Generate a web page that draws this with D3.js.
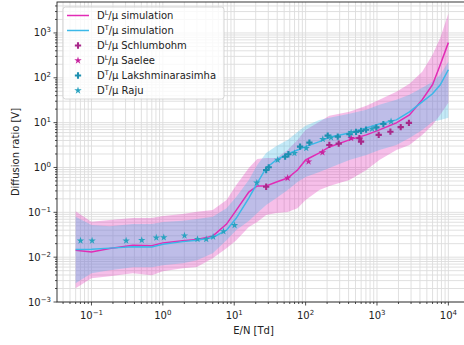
<!DOCTYPE html>
<html><head><meta charset="utf-8">
<script src="https://cdn.jsdelivr.net/npm/d3@7/dist/d3.min.js"></script>
<style>html,body{margin:0;padding:0;background:#fff;}svg{display:block;font-family:"DejaVu Sans",sans-serif;}</style>
</head><body><svg id="c" width="464" height="345"></svg>
<script>
// simulation E/N grid [Td]
const simEN = [0.06,0.1,0.18,0.38,0.7,1,1.9,3,5,7.8,10.7,16,21,28,39,56,77,100,156,215,410,710,1080,1870,2850,4300,6000,7700,10000];
const simL   = [0.0143,0.0131,0.0156,0.0185,0.0179,0.0208,0.0231,0.0248,0.0294,0.0546,0.112,0.283,0.386,0.386,0.474,0.582,0.879,1.47,2.11,2.87,4.12,5.33,6.89,9.89,14.9,32.3,69.9,196,608];
const simLhi = [0.106,0.0614,0.067,0.0743,0.0743,0.0824,0.0912,0.103,0.112,0.188,0.406,0.975,1.55,1.63,1.63,2.46,4.12,6.89,10.4,14.2,17.4,23.7,32.3,48.7,73.6,136,327,785,2700];
const simLlo = [0.00202,0.00339,0.00375,0.00438,0.00395,0.00485,0.00566,0.00605,0.00948,0.0159,0.0239,0.0468,0.0605,0.0867,0.0961,0.101,0.124,0.188,0.314,0.386,0.525,0.879,1.47,2.46,3.18,5.33,8.91,14.9,27.7];
const simT   = [0.0148,0.0151,0.0159,0.0171,0.0169,0.0195,0.0222,0.0239,0.0275,0.0401,0.0743,0.208,0.45,0.975,1.47,2.0,2.46,2.92,3.77,4.73,5.9,7.64,9.39,11.5,17.4,29.1,44.0,69.9,151];
const simThi = [0.0794,0.0518,0.0492,0.0546,0.0546,0.0605,0.0647,0.0706,0.0794,0.124,0.222,0.526,1.14,2.11,3.03,4.12,6.22,8.47,11.5,12.8,15.7,19.3,25.0,32.3,41.8,59.9,81.5,117,228];
const simTlo = [0.00262,0.00438,0.00511,0.00597,0.00597,0.00661,0.00733,0.00855,0.0123,0.0239,0.0401,0.0637,0.0961,0.145,0.208,0.314,0.474,0.613,0.793,0.975,1.47,1.9,2.46,3.18,4.57,6.89,10.4,11.5,12.8];

// experimental data
const schlumbohmEN = [28,215,291,567,598,1057,1541,2149,2800];
const schlumbohmV  = [0.372,3.18,3.40,4.50,3.77,5.33,6.28,7.92,9.88];
const saeleeEN = [56,110,172,434];
const saeleeV  = [0.582,1.35,2.16,4.50];
const lakshEN = [28,30.4,51.6,57.4,83.7,113,204,282,411,509,598,703,980,1229];
const lakshV  = [0.879,1.01,1.74,1.97,2.92,3.58,5.14,4.88,5.52,6.22,6.55,6.96,7.84,9.29];
const rajuEN = [0.0702,0.102,0.306,0.506,0.809,1.03,2.01,3.06,4.05,5.06,7.06,10.1,20.7,40.6,69.7,102,174,227,434,853,1574];
const rajuV  = [0.0233,0.0233,0.0233,0.0239,0.0272,0.0275,0.0302,0.0252,0.0252,0.0284,0.0375,0.0513,0.455,1.47,2.08,2.69,4.27,4.64,6.0,7.26,10.6];

const xDecades = [-1,0,1,2,3,4];
const yDecades = [-3,-2,-1,0,1,2,3];
const legendLabels = [["D","L","/μ simulation"],["D","T","/μ simulation"],["D","L","/μ Schlumbohm"],["D","L","/μ Saelee"],["D","T","/μ Lakshminarasimha"],["D","T","/μ Raju"]];
const supMinus = ["−"];

const cL = "#e22bb5", cT = "#3bb8e8";
const cSch = "#a8288a", cSae = "#c8249f", cLak = "#1e8fb0", cRaju = "#2aa3c0";

const svg = d3.select("#c");
const L = 57, R = 467, T = 2, B = 302;
const x = d3.scaleLog().domain([Math.pow(10,-1.483), Math.pow(10,4.261)]).range([L,R]);
const y = d3.scaleLog().domain([1e-3, Math.pow(10,3.69)]).range([B,T]);

// grid
const g = svg.append("g");
function minors(lo, hi){ const out=[]; for(let e=Math.floor(lo); e<=Math.ceil(hi); e++){ for(let k=1;k<=9;k++){ const v=k*Math.pow(10,e); const lv=Math.log10(v); if(lv>=lo-1e-9 && lv<=hi+1e-9) out.push(v);} } return out; }
const xTicksAll = minors(-1.483, 4.261);
const yTicksAll = minors(-3, 3.69);
g.selectAll(".gx").data(xTicksAll).enter().append("line")
 .attr("x1",d=>x(d)).attr("x2",d=>x(d)).attr("y1",T).attr("y2",B)
 .attr("stroke","#dcdcdc").attr("stroke-width",0.9);
g.selectAll(".gy").data(yTicksAll).enter().append("line")
 .attr("y1",d=>y(d)).attr("y2",d=>y(d)).attr("x1",L).attr("x2",R)
 .attr("stroke","#dcdcdc").attr("stroke-width",0.9);

// bands
const idx = d3.range(simEN.length);
const area = (lo,hi) => d3.area().x(i=>x(simEN[i])).y0(i=>y(lo[i])).y1(i=>y(hi[i]));
svg.append("path").attr("d", area(simLlo,simLhi)(idx)).attr("fill",cL).attr("fill-opacity",0.3);
svg.append("path").attr("d", area(simTlo,simThi)(idx)).attr("fill",cT).attr("fill-opacity",0.3);

const line = arr => d3.line().x(i=>x(simEN[i])).y(i=>y(arr[i]));
svg.append("path").attr("d", line(simL)(idx)).attr("fill","none").attr("stroke",cL).attr("stroke-width",1.5);
svg.append("path").attr("d", line(simT)(idx)).attr("fill","none").attr("stroke",cT).attr("stroke-width",1.5);

// markers
const cross = d3.symbol().type(d3.symbolCross).size(22);
const star = d3.symbol().type(d3.symbolStar).size(17);
function scatter(xs, ys, sym, col){
  svg.append("g").selectAll("path").data(xs.map((v,i)=>[v,ys[i]])).enter().append("path")
   .attr("d", sym).attr("transform", d=>`translate(${x(d[0])},${y(d[1])})`).attr("fill",col);
}
scatter(schlumbohmEN, schlumbohmV, cross, cSch);
scatter(saeleeEN, saeleeV, star, cSae);
scatter(lakshEN, lakshV, cross, cLak);
scatter(rajuEN, rajuV, star, cRaju);

// frame
svg.append("rect").attr("x",L).attr("y",T).attr("width",R-L).attr("height",B-T).attr("fill","none").attr("stroke","#222").attr("stroke-width",0.9);

// ticks
const ax = svg.append("g").attr("fill","#222").attr("font-size",10);
xTicksAll.forEach(v=>{ const maj = Math.abs(Math.log10(v)-Math.round(Math.log10(v)))<1e-9;
  ax.append("line").attr("x1",x(v)).attr("x2",x(v)).attr("y1",B).attr("y2",B+(maj?3.5:2)).attr("stroke","#222").attr("stroke-width",0.8);});
yTicksAll.forEach(v=>{ const maj = Math.abs(Math.log10(v)-Math.round(Math.log10(v)))<1e-9;
  ax.append("line").attr("y1",y(v)).attr("y2",y(v)).attr("x1",L).attr("x2",L-(maj?3.5:2)).attr("stroke","#222").attr("stroke-width",0.8);});
function expText(e){ return e<0 ? supMinus[0]+Math.abs(e) : String(e); }
xDecades.forEach(e=>{
  const t = ax.append("text").attr("x",x(Math.pow(10,e))).attr("y",B+17).attr("text-anchor","middle");
  t.append("tspan").text("10");
  t.append("tspan").attr("dy",-4).attr("font-size",7).text(expText(e));
});
yDecades.forEach(e=>{
  const t = ax.append("text").attr("x",L-6).attr("y",y(Math.pow(10,e))+3.5).attr("text-anchor","end");
  t.append("tspan").text("10");
  t.append("tspan").attr("dy",-4).attr("font-size",7).text(expText(e));
});
ax.append("text").attr("x",(57+450)/2).attr("y",334).attr("text-anchor","middle").text("E/N [Td]");
ax.append("text").attr("transform",`translate(19,${(T+B)/2}) rotate(-90)`).attr("text-anchor","middle").text("Diffusion ratio [V]");

// legend
const lg = svg.append("g");
lg.append("rect").attr("x",63).attr("y",7).attr("width",161).attr("height",92).attr("rx",2.5)
  .attr("fill","#fff").attr("fill-opacity",0.8).attr("stroke","#cccccc").attr("stroke-width",0.8);
const handles = [
  {t:"line",c:cL},{t:"line",c:cT},{t:"sym",s:cross,c:cSch},{t:"sym",s:star,c:cSae},{t:"sym",s:cross,c:cLak},{t:"sym",s:star,c:cRaju}];
legendLabels.forEach((lab,i)=>{
  const cy = 15.5 + i*15;
  const h = handles[i];
  if(h.t==="line") lg.append("line").attr("x1",67).attr("x2",89).attr("y1",cy).attr("y2",cy).attr("stroke",h.c).attr("stroke-width",1.5);
  else lg.append("path").attr("d",h.s).attr("transform",`translate(78,${cy})`).attr("fill",h.c);
  const t = lg.append("text").attr("x",97).attr("y",cy+3.5).attr("font-size",10).attr("fill","#222");
  t.append("tspan").text(lab[0]);
  t.append("tspan").attr("dy",-4).attr("font-size",6.5).text(lab[1]);
  t.append("tspan").attr("dy",4).text(lab[2]);
});
</script></body></html>
